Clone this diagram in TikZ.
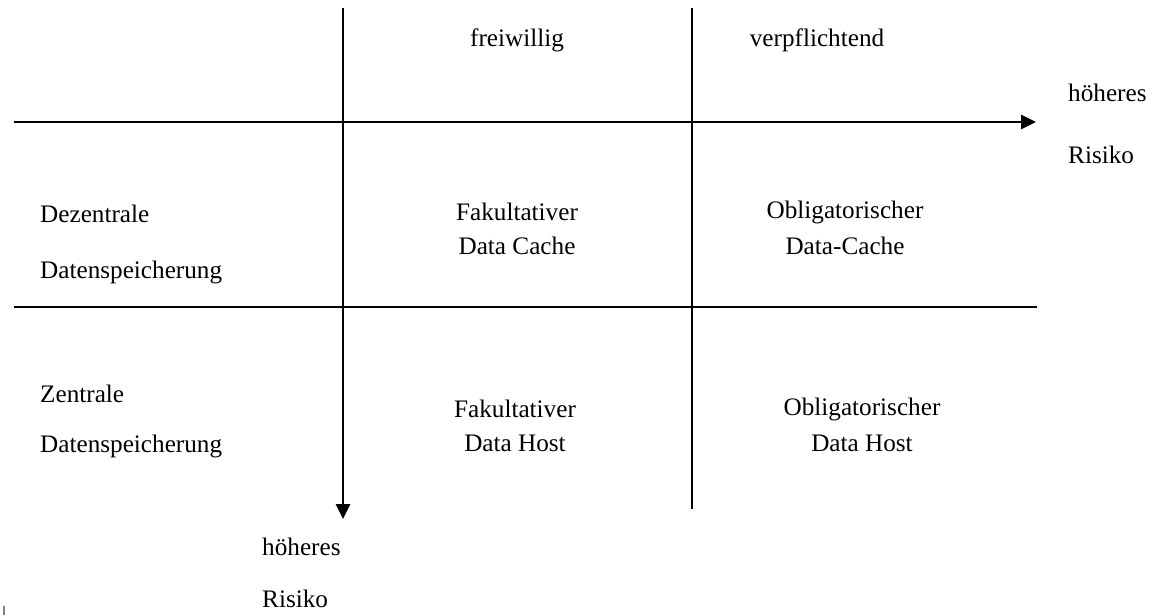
\documentclass[tikz,border=0pt]{standalone}
\usepackage{fontspec}
\setmainfont{Liberation Serif}
\usetikzlibrary{arrows.meta}
\begin{document}
\begin{tikzpicture}[x=1pt,y=-1pt,
  axis/.style={line width=2.6pt,line cap=butt},
  arr/.style={-{Triangle[length=15pt,width=14pt]}},
  txt/.style={inner sep=0pt,font=\fontsize{25.2}{30}\selectfont},
  lft/.style={txt,anchor=west}]
\useasboundingbox (0,0) rectangle (1166,615);
% axes
\coordinate (v1t) at (343,8);
\coordinate (v1b) at (343,519);
\coordinate (v2t) at (692,8);
\coordinate (v2b) at (692,509);
\coordinate (h1l) at (14,122);
\coordinate (h1r) at (1036,122);
\coordinate (h2l) at (14,307);
\coordinate (h2r) at (1037,307);
\coordinate (tk1) at (4,606);
\coordinate (tk2) at (4,615);
\draw[axis,arr] (v1t) -- (v1b);
\draw[axis] (v2t) -- (v2b);
\draw[axis,arr] (h1l) -- (h1r);
\draw[axis] (h2l) -- (h2r);
\draw[line width=1.2pt,gray] (tk1) -- (tk2);
% headers
\node[txt] (frei) at (517,40) {freiwillig};
\node[txt] (verp) at (817,40) {verpflichtend};
\node[lft] (hr1) at (1068,93) {höheres};
\node[lft] (hr2) at (1068,155) {Risiko};
% left labels
\node[lft] (dz1) at (40,214) {Dezentrale};
\node[lft] (dz2) at (40,272) {Datenspeicherung};
\node[lft] (z1) at (40,394) {Zentrale};
\node[lft] (z2) at (40,446) {Datenspeicherung};
% cells
\node[txt] (c11a) at (517,212) {Fakultativer};
\node[txt] (c11b) at (517,246) {Data Cache};
\node[txt] (c12a) at (845,212) {Obligatorischer};
\node[txt] (c12b) at (845,246) {Data-Cache};
\node[txt] (c21a) at (515,409) {Fakultativer};
\node[txt] (c21b) at (515,443) {Data Host};
\node[txt] (c22a) at (862,409) {Obligatorischer};
\node[txt] (c22b) at (862,443) {Data Host};
% bottom
\node[lft] (hb1) at (262,547) {höheres};
\node[lft] (hb2) at (262,599) {Risiko};
\end{tikzpicture}
\end{document}
